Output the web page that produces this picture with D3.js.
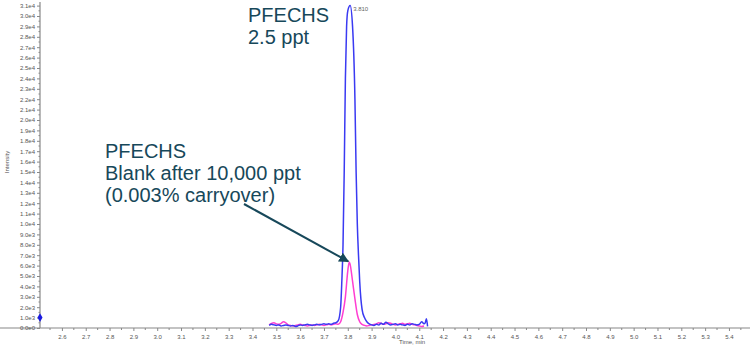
<!DOCTYPE html>
<html lang="en">
<head>
    <meta charset="UTF-8">
    <title>PFECHS carryover</title>
    <script src="https://d3js.org/d3.v7.min.js"></script>
    <style>
        body { margin: 0; background: #fff; font-family: Arial, "Liberation Sans", sans-serif; }
        .tick text { font-size: 6px; fill: #555; }
        .note { font-size: 20px; fill: #17485a; }
    </style>
</head>
<body>
<div id="chart"></div>
<script>
    // x tick labels and y tick labels
    const xTicks = d3.range(26, 55).map(d => d / 10);
    const yTicks = d3.range(0, 32).map(d => d * 1000);

    // blue trace: PFECHS 2.5 ppt
    const blueTime = [3.47, 3.48, 3.49, 3.50, 3.51, 3.52, 3.53, 3.54, 3.55, 3.56, 3.57, 3.58, 3.59, 3.60, 3.61, 3.62, 3.63, 3.64, 3.65, 3.66, 3.67, 3.68, 3.69, 3.70, 3.71, 3.72, 3.73, 3.74, 3.75, 3.76, 3.77, 3.775, 3.78, 3.785, 3.79, 3.795, 3.80, 3.81, 3.82, 3.83, 3.835, 3.84, 3.845, 3.85, 3.855, 3.86, 3.87, 3.88, 3.89, 3.90, 3.91, 3.92, 3.93, 3.94, 3.95, 3.96, 3.97, 3.98, 3.99, 4.00, 4.01, 4.02, 4.03, 4.04, 4.05, 4.06, 4.07, 4.08, 4.09, 4.10, 4.11, 4.12, 4.125, 4.13, 4.135];
    const blueVal = [250, 350, 300, 250, 300, 200, 250, 300, 250, 200, 250, 150, 200, 300, 250, 300, 350, 300, 250, 300, 350, 300, 350, 400, 350, 400, 350, 450, 500, 700, 2000, 4500, 8000, 15000, 24000, 29000, 30500, 31000, 29000, 22000, 15000, 10000, 7000, 4500, 2800, 1800, 1000, 600, 400, 300, 250, 350, 300, 450, 350, 550, 400, 300, 350, 400, 300, 350, 300, 250, 350, 300, 400, 350, 300, 350, 600, 400, 500, 900, 150];

    // pink trace: blank after 10,000 ppt
    const pinkTime = [3.47, 3.48, 3.49, 3.50, 3.51, 3.52, 3.53, 3.54, 3.55, 3.56, 3.57, 3.58, 3.59, 3.60, 3.61, 3.62, 3.63, 3.64, 3.65, 3.66, 3.67, 3.68, 3.69, 3.70, 3.71, 3.72, 3.73, 3.74, 3.75, 3.76, 3.77, 3.78, 3.79, 3.80, 3.806, 3.81, 3.82, 3.83, 3.84, 3.85, 3.86, 3.87, 3.88, 3.89, 3.90, 3.91, 3.92, 3.93, 3.94, 3.95, 3.96, 3.97, 3.98, 3.99, 4.00, 4.01, 4.02, 4.03, 4.04, 4.05, 4.06, 4.07, 4.08, 4.09, 4.10, 4.11, 4.12];
    const pinkVal = [300, 450, 500, 400, 350, 450, 600, 500, 300, 250, 200, 250, 300, 350, 300, 250, 200, 250, 300, 250, 300, 350, 300, 250, 300, 350, 300, 350, 400, 350, 600, 1500, 3000, 5500, 6350, 6100, 4500, 2800, 1300, 600, 350, 250, 200, 250, 300, 350, 400, 500, 450, 350, 400, 500, 450, 350, 300, 350, 400, 450, 350, 400, 450, 350, 300, 250, 200, 150, 200];

    const peakLabel = { time: 3.81, value: 31000, text: "3.810" };
    const markerValue = 1000;

    const W = 750, H = 346;
    const svg = d3.select("#chart").append("svg")
        .attr("width", W)
        .attr("height", H);

    const x = d3.scaleLinear().domain([2.508, 5.48]).range([40, 748]);
    const y = d3.scaleLinear().domain([0, 31000]).range([328, 5.6]);

    const expFmt = d => {
        const e = d ? Math.floor(Math.log10(d)) : 0;
        return d3.format(".1f")(d / Math.pow(10, e)) + "e" + e;
    };

    // axes
    const xAxis = svg.append("g")
        .attr("transform", "translate(0,328)")
        .call(d3.axisBottom(x).tickValues(xTicks).tickFormat(d3.format(".1f")).tickSize(3).tickPadding(4));
    const yAxis = svg.append("g")
        .attr("transform", "translate(40,0)")
        .call(d3.axisLeft(y).tickValues(yTicks).tickFormat(expFmt).tickSize(3).tickPadding(2));

    [xAxis, yAxis].forEach(g => {
        g.select(".domain").attr("stroke", "#888").attr("stroke-width", 1.2);
        g.selectAll(".tick line").attr("stroke", "#888");
    });
    xAxis.select(".domain").attr("d", "M0,0H750");
    yAxis.select(".domain").attr("d", "M0,2V328");

    // minor ticks
    svg.append("g").selectAll("line")
        .data(xTicks.map(d => d + 0.05).concat([2.55]))
        .join("line")
        .attr("x1", d => x(d)).attr("x2", d => x(d))
        .attr("y1", 328).attr("y2", 330)
        .attr("stroke", "#888");
    svg.append("g").selectAll("line")
        .data(yTicks.slice(0, -1).map(d => d + 500))
        .join("line")
        .attr("x1", 38.5).attr("x2", 40)
        .attr("y1", d => y(d)).attr("y2", d => y(d))
        .attr("stroke", "#888");

    svg.append("text")
        .attr("x", 412).attr("y", 344)
        .attr("text-anchor", "middle")
        .attr("font-size", 6).attr("fill", "#555")
        .text("Time, min");
    svg.append("text")
        .attr("transform", "translate(9,162) rotate(-90)")
        .attr("text-anchor", "middle")
        .attr("font-size", 6).attr("fill", "#555")
        .text("Intensity");

    // traces
    const line = d3.line()
        .x(d => x(d[0]))
        .y(d => y(d[1]))
        .curve(d3.curveMonotoneX);

    svg.append("path")
        .datum(pinkTime.map((t, i) => [t, pinkVal[i]]))
        .attr("d", line)
        .attr("fill", "none")
        .attr("stroke", "#ff3ed2")
        .attr("stroke-width", 1.5);

    svg.append("path")
        .datum(blueTime.map((t, i) => [t, blueVal[i]]))
        .attr("d", line)
        .attr("fill", "none")
        .attr("stroke", "#3a3af2")
        .attr("stroke-width", 1.5);

    svg.append("text")
        .attr("x", x(peakLabel.time) + 3)
        .attr("y", y(peakLabel.value) + 5)
        .attr("font-size", 6).attr("fill", "#666")
        .text(peakLabel.text);

    // marker on y axis
    svg.append("path")
        .attr("d", d3.symbol(d3.symbolDiamond, 22)())
        .attr("transform", `translate(${x.range()[0]},${y(markerValue)})`)
        .attr("fill", "#1a1ae0");

    // annotations
    svg.append("defs").append("marker")
        .attr("id", "arrow")
        .attr("viewBox", "0 0 10 10")
        .attr("refX", 9).attr("refY", 5)
        .attr("markerWidth", 5).attr("markerHeight", 5)
        .attr("orient", "auto")
        .append("path")
        .attr("d", "M0,0L10,5L0,10z")
        .attr("fill", "#17485a");

    const topNote = svg.append("text").attr("class", "note");
    topNote.append("tspan").attr("x", 248).attr("y", 22).text("PFECHS");
    topNote.append("tspan").attr("x", 248).attr("y", 44).text("2.5 ppt");

    const blankNote = svg.append("text").attr("class", "note");
    blankNote.append("tspan").attr("x", 105).attr("y", 158).text("PFECHS");
    blankNote.append("tspan").attr("x", 105).attr("y", 180).text("Blank after 10,000 ppt");
    blankNote.append("tspan").attr("x", 105).attr("y", 202).text("(0.003% carryover)");

    svg.append("line")
        .attr("x1", 244).attr("y1", 204)
        .attr("x2", x(3.802)).attr("y2", y(6400))
        .attr("stroke", "#17485a")
        .attr("stroke-width", 2)
        .attr("marker-end", "url(#arrow)");
</script>
</body>
</html>
